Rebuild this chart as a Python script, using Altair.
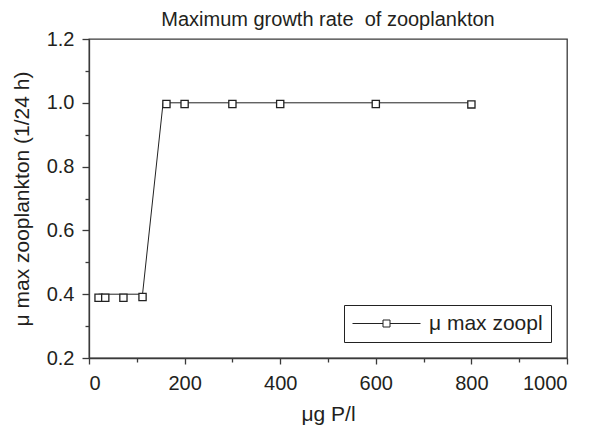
import altair as alt
import pandas as pd

series_name = "μ max zoopl"
line_x = [20, 34, 72, 112, 155, 200, 300, 400, 600, 800]
line_y = [0.4, 0.4, 0.4, 0.4, 1.0, 1.0, 1.0, 1.0, 1.0, 1.0]
pts_x = [20, 34, 72, 112, 162, 200, 300, 400, 600, 800]
pts_y = [0.389, 0.389, 0.389, 0.391, 0.996, 0.996, 0.996, 0.996, 0.996, 0.995]
x_ticks = [0, 100, 200, 300, 400, 500, 600, 700, 800, 900, 1000]
y_ticks = [0.2, 0.3, 0.4, 0.5, 0.6, 0.7, 0.8, 0.9, 1.0, 1.1, 1.2]

line_df = pd.DataFrame({"x": line_x, "y": line_y, "series": [series_name] * len(line_x)})
pts_df = pd.DataFrame({"x": pts_x, "y": pts_y})

FONT = "Liberation Sans"
TXT = "#231f20"
AX = "#3a3a3a"

x_axis = alt.Axis(
    values=x_ticks,
    title="μg P/l",
    grid=False,
    labelExpr="datum.value % 200 === 0 ? format(datum.value, 'd') : ''",
    tickSize={"condition": {"test": "datum.value % 200 === 0", "value": 6}, "value": 4},
    labelPadding=9,
    titlePadding=10,
)
y_axis = alt.Axis(
    values=y_ticks,
    title="μ max zooplankton (1/24 h)",
    grid=False,
    labelExpr="round(datum.value * 10) % 2 === 0 ? format(datum.value, '.1f') : ''",
    tickSize={"condition": {"test": "round(datum.value * 10) % 2 === 0", "value": 7}, "value": 4},
    labelPadding=8,
    titlePadding=14,
)

xenc = alt.X("x:Q", scale=alt.Scale(domain=[0, 1000], nice=False, zero=False), axis=x_axis)
yenc = alt.Y("y:Q", scale=alt.Scale(domain=[0.2, 1.2], nice=False, zero=False), axis=y_axis)

# legend symbol: nominal 20px box, path extends to the right (line - square - line)
sym_path = "M-1,0H2.05M2.75,0H5.8M2.05,-0.35H2.75V0.35H2.05Z"

line = alt.Chart(line_df).mark_line(strokeWidth=1, color="#222").encode(
    x=xenc,
    y=yenc,
    color=alt.Color(
        "series:N",
        scale=alt.Scale(range=["#222222"]),
        legend=alt.Legend(
            title=None,
            orient="bottom-right",
            offset=16,
            symbolType=sym_path,
            symbolSize=400,
            symbolStrokeWidth=1,
            symbolFillColor="white",
            symbolStrokeColor="#222222",
            labelFont=FONT,
            labelFontSize=21,
            labelColor=TXT,
            labelOffset=56,
            strokeColor="#222222",
            padding=8,
            fillColor="white",
        ),
    ),
)

pts = alt.Chart(pts_df).mark_point(
    shape="square", size=52, filled=True, fill="white", stroke="#222222", strokeWidth=1.3, opacity=1
).encode(x=xenc, y=yenc)

chart = alt.layer(line, pts).properties(
    width=478,
    height=319,
    autosize="none",
    padding={"left": 81, "top": 31, "right": 8, "bottom": 70},
    title=alt.Title(
        "Maximum growth rate\u00a0 of zooplankton",
        font=FONT,
        fontSize=20,
        fontWeight="normal",
        color=TXT,
        anchor="middle",
        offset=-1,
    ),
).configure_view(stroke=AX, strokeWidth=1.3).configure_axis(
    domainColor=AX,
    domainWidth=1.3,
    tickColor=AX,
    tickWidth=1.3,
    labelFont=FONT,
    labelFontSize=20,
    labelColor=TXT,
    titleFont=FONT,
    titleFontSize=21,
    titleFontWeight="normal",
    titleColor=TXT,
)

chart.save("out.html", embed_options={"renderer": "svg", "actions": False})
